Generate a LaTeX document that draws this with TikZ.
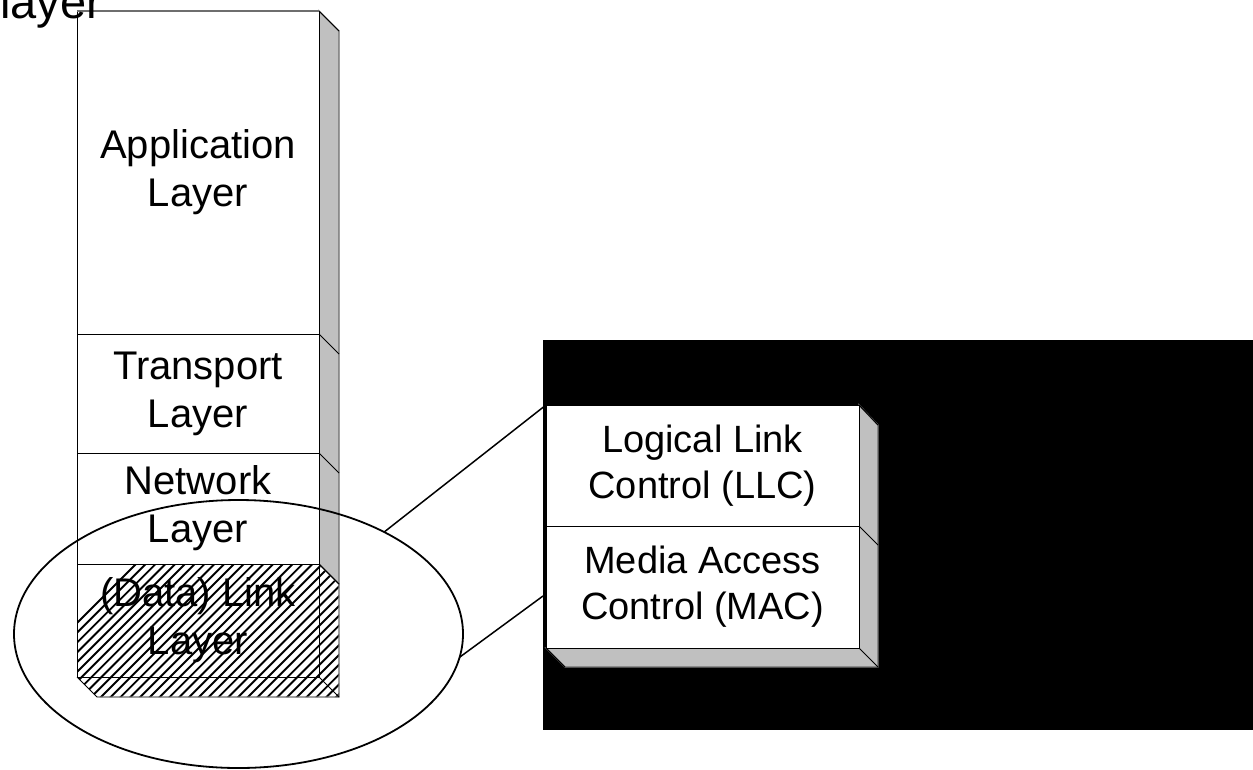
\documentclass[tikz,border=0pt]{standalone}
\usepackage{fontspec}
\setmainfont{Liberation Sans}
\usetikzlibrary{shapes.geometric}
\definecolor{sidegray}{HTML}{C0C0C0}
\definecolor{edgegray}{HTML}{6E6E6E}
\begin{document}
\begin{tikzpicture}[x=1pt,y=-1pt,
  face/.style={draw=black,line width=0.9pt,inner sep=0pt,outer sep=0pt,align=center,
    font=\fontsize{40}{48}\selectfont,minimum width=242pt},
  rface/.style={draw=black,line width=0.9pt,inner sep=0pt,outer sep=0pt,align=center,
    font=\fontsize{38}{46}\selectfont,minimum width=313pt,fill=white},
  sideface/.style={fill=sidegray,draw=edgegray,line width=1.4pt,line join=miter},
  bevel/.style={draw=black,line width=0.9pt},
  hatchline/.style={line width=1.9pt,black},
  connector/.style={draw=black,line width=1.5pt}]
\useasboundingbox (0,0) rectangle (1253,769);

% ---------- left stack ----------
% side strip (gray part)
\path[sideface] (319,11) -- (339,31) -- (339,584) -- (319,564) -- cycle;
\draw[bevel] (319,11) -- (339,31);
\draw[bevel] (319,334) -- (339,354);
\draw[bevel] (319,453) -- (339,473);

% hatched link layer (front, side and bottom)
\begin{scope}
  \clip (77,564) -- (319,564) -- (339,584) -- (339,697) -- (97,697) -- (77,677) -- cycle;
  \foreach \i in {0,...,45} {
    \draw[hatchline] (-20+9.8*\i,720) -- ++(180,-180);
  }
\end{scope}
\draw[edgegray,line width=1.4pt] (319,564) -- (339,584) -- (339,697) -- (97,697);
\draw[bevel] (319,564) -- (339,584);
\draw[bevel] (77,677) -- (97,697);
\draw[bevel] (319,677) -- (339,697);

% front faces
\node[face,fill=white,minimum height=323pt] (app) at (198,172.5) {Application\\Layer};
\node[face,fill=white,minimum height=119pt] (trans) at (198,393.5) {Transport\\Layer};
\node[face,fill=white,minimum height=111pt] (net) at (198,508.5) {Network\\Layer};
\node[face,minimum height=113pt] (link) at (198,620.5) {(Data) Link\\Layer};
\draw[edgegray,line width=1.2pt] (77,11) -- (319,11);

% title fragment
\node[anchor=base west,inner sep=0pt,font=\fontsize{47}{56}\selectfont] (title) at (0,18) {layer};

% ellipse highlighting the link layer
\node[ellipse,draw=black,line width=1.8pt,inner sep=0pt,outer sep=0pt,
  minimum width=449pt,minimum height=268pt] (ell) at (238.5,634) {};

% ---------- right panel ----------
\fill[black] (543,340) rectangle (1253,730);
\path[sideface] (859,405) -- (878,425) -- (878,667) -- (565,667) -- (546,648) -- (859,648) -- cycle;
\draw[bevel] (859,405) -- (878,425);
\draw[bevel] (859,526) -- (878,545);
\draw[bevel] (546,648) -- (565,667);
\draw[bevel] (859,648) -- (878,667);
\node[rface,minimum height=121pt] (llc) at (702.5,465.5) {Logical Link\\Control (LLC)};
\node[rface,minimum height=122pt] (mac) at (702.5,587) {Media Access\\Control (MAC)};
\coordinate (macin) at (543,596);

% connectors
\draw[connector] (ell.35) -- (llc.north west);
\draw[connector] (ell.-6) -- (macin);
\end{tikzpicture}
\end{document}
